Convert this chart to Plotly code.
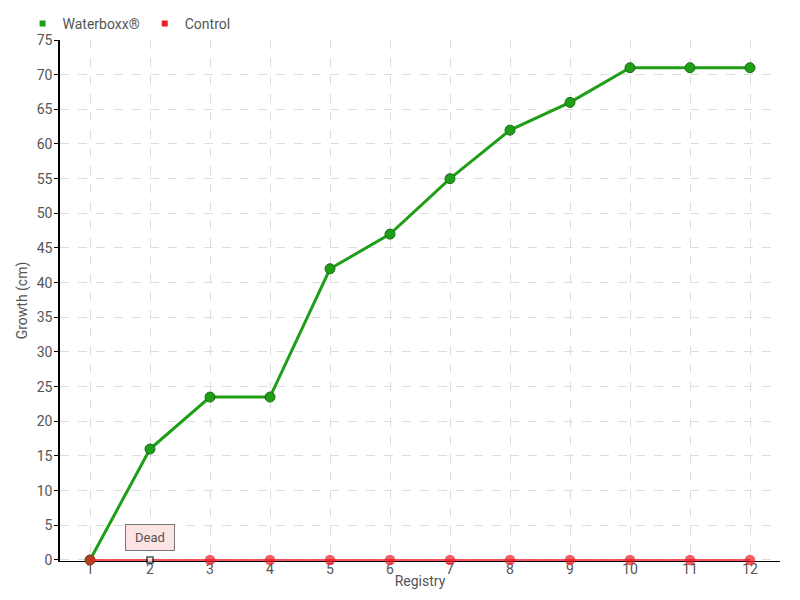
import plotly.graph_objects as go

registry = [1, 2, 3, 4, 5, 6, 7, 8, 9, 10, 11, 12]
waterboxx = [0, 16, 23.5, 23.5, 42, 47, 55, 62, 66, 71, 71, 71]
control = [0, 0, 0, 0, 0, 0, 0, 0, 0, 0, 0, 0]
y_ticks = list(range(0, 80, 5))

FONT = "Roboto, Liberation Sans, sans-serif"
GRAY = "#555555"

fig = go.Figure()
fig.add_trace(go.Scatter(
    x=registry, y=waterboxx, mode="lines+markers", name="Waterboxx®",
    line=dict(color="#1f9e17", width=3),
    marker=dict(color="#1f9e17", size=10, line=dict(color="#1a6e14", width=1)),
    showlegend=False, cliponaxis=False,
))
ctrl_colors = ["#ee1c25"] * len(registry)
ctrl_colors[1] = "#ffffff"
ctrl_sizes = [9] * len(registry)
ctrl_sizes[1] = 6
ctrl_symbols = ["circle"] * len(registry)
ctrl_symbols[1] = "square"
ctrl_line = ["#ee1c25"] * len(registry)
ctrl_line[1] = "#000000"
fig.add_trace(go.Scatter(
    x=registry, y=control, mode="lines+markers", name="Control",
    line=dict(color="#ee1c25", width=1.5),
    marker=dict(color=ctrl_colors, size=ctrl_sizes, symbol=ctrl_symbols,
                line=dict(color=ctrl_line, width=1.5)),
    showlegend=False, cliponaxis=False,
))
# legend entries (square swatches)
for name, col in [("Waterboxx®", "#1f9e17"), ("Control", "#ee1c25")]:
    fig.add_trace(go.Scatter(x=[None], y=[None], mode="markers", name=name,
                             marker=dict(symbol="square", size=6, color=col)))

fig.add_annotation(x=2, y=0, text="Dead", showarrow=False, yanchor="bottom",
                   yshift=9, bgcolor="#fde4e4", bordercolor="#777777", borderwidth=1,
                   borderpad=5, width=38, font=dict(family=FONT, size=13, color=GRAY))

fig.update_layout(
    width=800, height=600,
    margin=dict(l=52, r=28, t=32, b=47, autoexpand=False),
    paper_bgcolor="white", plot_bgcolor="white",
    font=dict(family=FONT, size=14, color=GRAY),
    legend=dict(orientation="h", x=-0.052, y=1.0, xanchor="left", yanchor="bottom",
                bgcolor="rgba(0,0,0,0)",
                font=dict(size=14, color=GRAY), itemwidth=30, tracegroupgap=0),
    xaxis=dict(range=[0.5, 12.5], tickmode="array", tickvals=registry,
               ticktext=[str(r) for r in registry],
               showgrid=True, gridcolor="#dddddd", griddash="dash",
               showline=True, linecolor="black", linewidth=1, zeroline=False,
               ticks="", ticklabelstandoff=-5, layer="below traces",
               title=dict(text="Registry", standoff=0,
                          font=dict(size=14, color=GRAY))),
    yaxis=dict(range=[-0.15, 75], tickmode="array", tickvals=y_ticks,
               showgrid=True, gridcolor="#dddddd", griddash="dash",
               showline=True, linecolor="black", linewidth=1.5, zeroline=False,
               ticks="outside", ticklen=4, tickcolor="black", ticklabelstandoff=-1,
               layer="below traces",
               title=dict(text="Growth (cm)", standoff=6,
                          font=dict(size=14, color=GRAY))),
)

fig.write_html("out.html")
